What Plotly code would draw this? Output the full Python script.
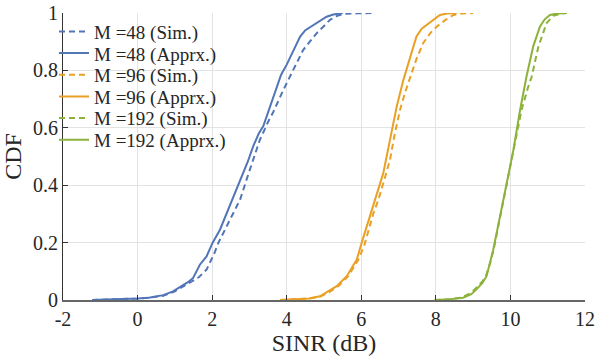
import plotly.graph_objects as go

# ---- data ----
m48_apprx_x = [-1.22, -0.5, 0.0, 0.3, 0.69, 0.95, 1.14, 1.35, 1.49, 1.67, 1.85, 2.01, 2.21, 2.43, 2.62, 2.78, 2.95, 3.10, 3.25, 3.37, 3.55, 3.70, 3.85, 4.00, 4.18, 4.36, 4.50, 4.71, 4.90, 5.07, 5.25, 5.50]
m48_apprx_y = [0, 0.002, 0.005, 0.008, 0.017, 0.03, 0.046, 0.062, 0.077, 0.123, 0.152, 0.199, 0.245, 0.315, 0.37, 0.42, 0.48, 0.535, 0.58, 0.605, 0.675, 0.73, 0.785, 0.82, 0.871, 0.918, 0.94, 0.958, 0.975, 0.987, 0.995, 1.0]
m48_sim_x = [-1.22, -0.5, 0.0, 0.3, 0.69, 1.0, 1.2, 1.45, 1.65, 1.85, 2.05, 2.17, 2.48, 2.75, 3.0, 3.28, 3.50, 3.64, 3.91, 4.18, 4.44, 4.62, 4.80, 5.0, 5.16, 5.35, 5.52, 5.9, 6.3]
m48_sim_y = [0, 0.002, 0.005, 0.008, 0.015, 0.03, 0.045, 0.062, 0.08, 0.106, 0.16, 0.2, 0.28, 0.35, 0.45, 0.558, 0.62, 0.655, 0.732, 0.80, 0.871, 0.90, 0.929, 0.955, 0.976, 0.99, 0.997, 0.999, 1.0]

m96_apprx_x = [3.82, 4.3, 4.6, 4.89, 5.1, 5.34, 5.61, 5.88, 6.01, 6.23, 6.37, 6.50, 6.59, 6.77, 6.95, 7.13, 7.31, 7.48, 7.62, 7.75, 7.95, 8.11, 8.3, 8.56]
m96_apprx_y = [0, 0.002, 0.005, 0.013, 0.028, 0.048, 0.083, 0.141, 0.199, 0.291, 0.35, 0.41, 0.442, 0.558, 0.674, 0.767, 0.848, 0.918, 0.945, 0.958, 0.98, 0.993, 0.998, 1.0]
m96_sim_x = [3.82, 4.3, 4.6, 4.9, 5.15, 5.4, 5.65, 5.92, 6.08, 6.32, 6.46, 6.62, 6.77, 6.9, 7.04, 7.18, 7.31, 7.48, 7.66, 7.85, 8.02, 8.25, 8.47, 8.7, 9.0]
m96_sim_y = [0, 0.002, 0.005, 0.012, 0.028, 0.05, 0.083, 0.14, 0.19, 0.3, 0.35, 0.42, 0.489, 0.58, 0.663, 0.725, 0.778, 0.84, 0.895, 0.93, 0.952, 0.975, 0.993, 0.998, 1.0]

m192_apprx_x = [7.97, 8.4, 8.73, 8.95, 9.09, 9.25, 9.36, 9.45, 9.54, 9.72, 9.90, 10.08, 10.26, 10.43, 10.61, 10.79, 10.92, 11.06, 11.25, 11.51]
m192_apprx_y = [0, 0.003, 0.008, 0.02, 0.037, 0.06, 0.083, 0.125, 0.176, 0.291, 0.408, 0.523, 0.663, 0.778, 0.883, 0.952, 0.978, 0.993, 0.998, 1.0]
m192_sim_x = [7.97, 8.4, 8.7, 8.95, 9.1, 9.25, 9.36, 9.46, 9.55, 9.73, 9.90, 10.08, 10.30, 10.47, 10.57, 10.75, 10.97, 11.15, 11.35, 11.51]
m192_sim_y = [0, 0.003, 0.009, 0.025, 0.045, 0.065, 0.09, 0.13, 0.176, 0.29, 0.405, 0.52, 0.663, 0.74, 0.778, 0.883, 0.965, 0.99, 0.998, 1.0]

x_ticks = [-2, 0, 2, 4, 6, 8, 10, 12]
x_ticktext = ["-2", "0", "2", "4", "6", "8", "10", "12"]
y_ticks = [0, 0.2, 0.4, 0.6, 0.8, 1]
y_ticktext = ["0", "0.2", "0.4", "0.6", "0.8", "1"]

BLUE = "#5275B8"
ORANGE = "#E9A024"
GREEN = "#8CB23C"
FONT = "Liberation Serif, Times New Roman, Times, serif"
TXT = "#262626"

series = [
    ("M =48 (Sim.)", m48_sim_x, m48_sim_y, BLUE, "6px,4px"),
    ("M =48 (Apprx.)", m48_apprx_x, m48_apprx_y, BLUE, "solid"),
    ("M =96 (Sim.)", m96_sim_x, m96_sim_y, ORANGE, "6px,4px"),
    ("M =96 (Apprx.)", m96_apprx_x, m96_apprx_y, ORANGE, "solid"),
    ("M =192 (Sim.)", m192_sim_x, m192_sim_y, GREEN, "6px,4px"),
    ("M =192 (Apprx.)", m192_apprx_x, m192_apprx_y, GREEN, "solid"),
]

# plot area geometry in pixels (used only to place legend rows)
PLOT_L, PLOT_R, PLOT_T, PLOT_B = 63, 585, 13, 300.5
legend_row_px = [31.7, 53.3, 75.0, 96.7, 118.3, 140.0]
legend_left_px = 54

fig = go.Figure()
layout_legends = {}
for i, (name, xs, ys, col, dash) in enumerate(series):
    key = "legend" if i == 0 else f"legend{i+1}"
    fig.add_trace(go.Scatter(x=xs, y=ys, mode="lines", name=name,
                             line=dict(color=col, width=2, dash=dash),
                             legend=key))
    layout_legends[key] = dict(
        x=(legend_left_px - PLOT_L) / (PLOT_R - PLOT_L),
        y=(PLOT_B - legend_row_px[i]) / (PLOT_B - PLOT_T),
        xanchor="left", yanchor="middle",
        bgcolor="rgba(0,0,0,0)", borderwidth=0,
        font=dict(family=FONT, size=19, color=TXT),
    )

fig.update_layout(
    width=595, height=361,
    margin=dict(l=PLOT_L, r=595 - PLOT_R, t=PLOT_T, b=361 - PLOT_B),
    plot_bgcolor="white", paper_bgcolor="white",
    font=dict(family=FONT, size=20, color=TXT),
    showlegend=True,
    xaxis=dict(range=[-2, 12], tickvals=x_ticks, ticktext=x_ticktext,
               tickfont=dict(family=FONT, size=20, color=TXT),
               showgrid=True, gridcolor="#E3E3E3", gridwidth=1,
               zeroline=False, showline=True, linecolor="#666666", linewidth=2,
               ticks="inside", ticklen=5, tickcolor="#333333",
               automargin=False,
               title=dict(text="SINR (dB)", font=dict(family=FONT, size=24, color=TXT), standoff=4)),
    yaxis=dict(range=[0, 1], tickvals=y_ticks, ticktext=y_ticktext,
               tickfont=dict(family=FONT, size=20, color=TXT),
               showgrid=True, gridcolor="#E3E3E3", gridwidth=1,
               zeroline=False, showline=True, linecolor="#333333", linewidth=1,
               ticks="inside", ticklen=5, tickcolor="#333333",
               automargin=False,
               title=dict(text="CDF", font=dict(family=FONT, size=24, color=TXT), standoff=6)),
    **layout_legends,
)

fig.write_html("out.html")
